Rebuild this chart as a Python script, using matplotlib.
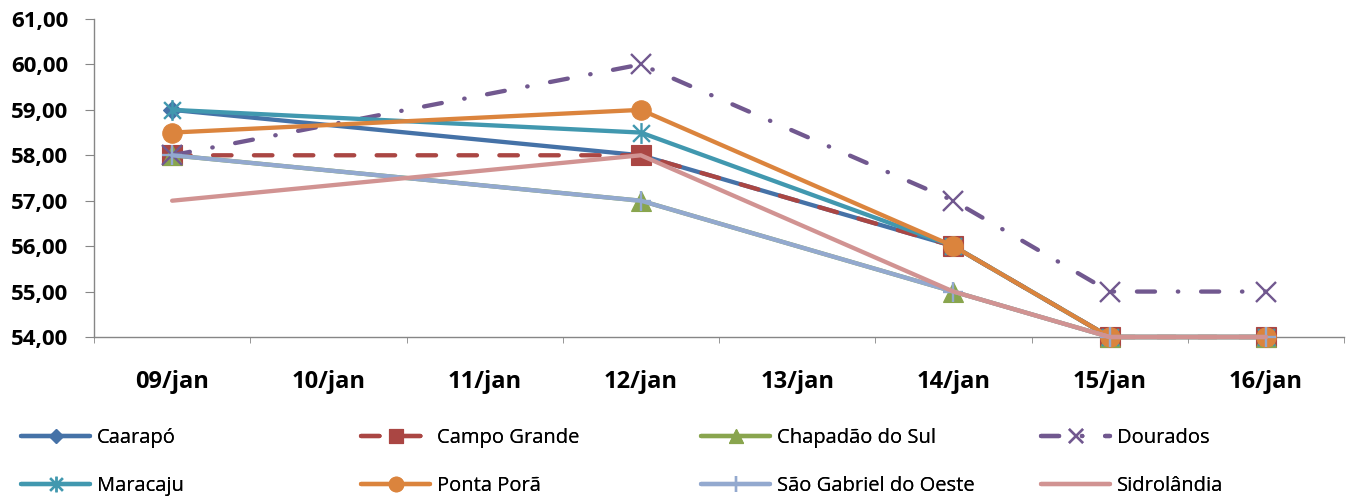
import matplotlib
matplotlib.use("Agg")
import matplotlib.pyplot as plt
from matplotlib.path import Path
from matplotlib.ticker import FixedLocator, FuncFormatter

plt.rcParams['font.family'] = ['Open Sans', 'DejaVu Sans']

dates = ["09/jan", "10/jan", "11/jan", "12/jan", "13/jan", "14/jan", "15/jan", "16/jan"]
obs_dates = ["09/jan", "12/jan", "14/jan", "15/jan", "16/jan"]

caarapo = [59.0, 58.0, 56.0, 54.0, 54.0]
campo_grande = [58.0, 58.0, 56.0, 54.0, 54.0]
chapadao = [58.0, 57.0, 55.0, 54.0, 54.0]
dourados = [58.0, 60.0, 57.0, 55.0, 55.0]
maracaju = [59.0, 58.5, 56.0, 54.0, 54.0]
ponta_pora = [58.5, 59.0, 56.0, 54.0, 54.0]
sao_gabriel = [58.0, 57.0, 55.0, 54.0, 54.0]
sidrolandia = [57.0, 58.0, 55.0, 54.0, 54.0]

y_ticks = [54, 55, 56, 57, 58, 59, 60, 61]

# asterisk: an X crossed by a vertical bar
star = Path([(-0.5, -0.5), (0.5, 0.5), (-0.5, 0.5), (0.5, -0.5), (0, -0.62), (0, 0.62)],
            [Path.MOVETO, Path.LINETO, Path.MOVETO, Path.LINETO, Path.MOVETO, Path.LINETO])

dash_cg = (0, (4.3, 5.2))
dash_dot = (0, (4.2, 5.3, 0.1, 5.3))

series = [
    ("Caarapó", caarapo, "#4572A7", "-", "D", 9.5),
    ("Campo Grande", campo_grande, "#AA4643", dash_cg, "s", 14),
    ("Chapadão do Sul", chapadao, "#89A54E", "-", "^", 14),
    ("Dourados", dourados, "#71588F", dash_dot, "x", 14),
    ("Maracaju", maracaju, "#4198AF", "-", star, 15),
    ("Ponta Porã", ponta_pora, "#DB843D", "-", "o", 14),
    ("São Gabriel do Oeste", sao_gabriel, "#93A9CF", "-", "+", 15),
    ("Sidrolândia", sidrolandia, "#D19392", "-", None, 0),
]
thin_markers = ("x", "+")

W, H = 1351, 498
fig = plt.figure(figsize=(W / 100, H / 100), dpi=100)
ax = fig.add_axes([94 / W, 1 - 337 / H, (1344 - 94) / W, (337 - 19) / H])

xpos = [dates.index(d) for d in obs_dates]
handles = []
for name, vals, color, ls, mk, ms in series:
    thin = isinstance(mk, Path) or mk in thin_markers
    (ln,) = ax.plot(xpos, vals, color=color, linestyle=ls, linewidth=3.1,
                    marker=mk, markersize=ms, markeredgewidth=1.7 if thin else 0.8,
                    markeredgecolor=color, markerfacecolor=color,
                    solid_capstyle="round", dash_capstyle="round", label=name,
                    clip_on=False)
    handles.append(ln)

ax.set_xlim(-0.5, len(dates) - 0.5)
ax.set_ylim(54, 61)
ax.yaxis.set_major_locator(FixedLocator(y_ticks))
ax.yaxis.set_major_formatter(FuncFormatter(lambda v, p: f"{v:.2f}".replace(".", ",")))
ax.set_xticks(range(len(dates)))
ax.set_xticklabels(dates)
ax.set_xticks([i + 0.5 for i in range(-1, len(dates))], minor=True)

for side in ("top", "right"):
    ax.spines[side].set_visible(False)
for side in ("left", "bottom"):
    ax.spines[side].set_color("#868686")
    ax.spines[side].set_linewidth(1.0)
    ax.spines[side].set_zorder(1)

ax.tick_params(axis="x", which="major", length=0, pad=24, labelsize=17)
ax.tick_params(axis="x", which="minor", length=4, color="#868686", direction="out")
ax.tick_params(axis="y", length=6.5, color="#868686", direction="out", labelsize=16, pad=12)
for lbl in ax.get_xticklabels() + ax.get_yticklabels():
    lbl.set_fontweight("bold")

# legend laid out row by row, four entries per row
col_x = [21, 361, 701, 1041]
row_y = [438, 486]
for i, h in enumerate(handles):
    r, c = divmod(i, 4)
    leg = fig.legend([h], [h.get_label()], loc="center left",
                     bbox_to_anchor=(col_x[c] / W, 1 - row_y[r] / H),
                     frameon=False, fontsize=14.5, handlelength=3.45,
                     handletextpad=0.3, borderpad=0.0, borderaxespad=0.0,
                     markerscale=0.75)
    fig.add_artist(leg)

fig.savefig("out.png", dpi=100)
